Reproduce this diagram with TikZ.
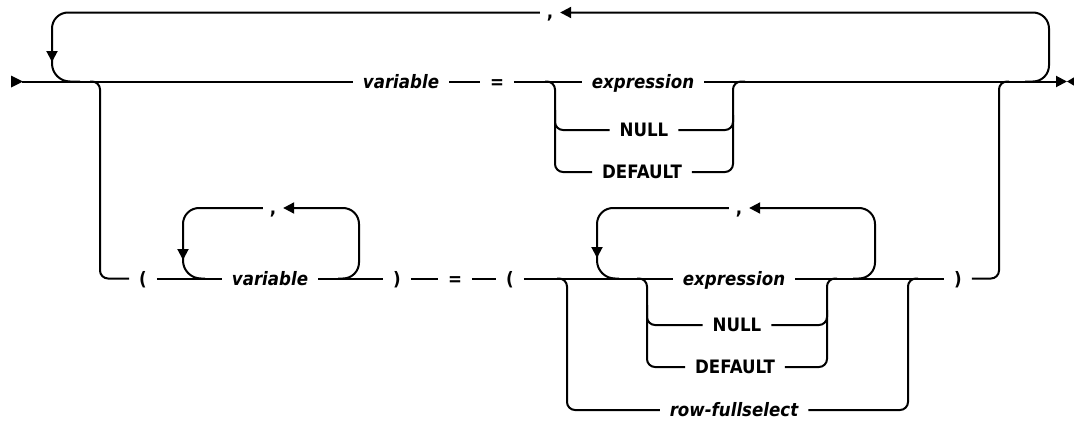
\documentclass[tikz,border=0pt]{standalone}
\usepackage{fontspec}
\setmainfont{DejaVu Sans}[FakeStretch=0.9]
\usetikzlibrary{arrows.meta}
\tikzset{
  lbl/.style={inner xsep=9pt, inner ysep=0pt, text height=13pt, text depth=0pt, anchor=center, font=\fontsize{18.5}{20}\selectfont\bfseries},
  ilbl/.style={lbl, font=\fontsize{18.5}{20}\selectfont\bfseries\itshape},
  commalbl/.style={lbl, inner xsep=6pt},
  rca/.style={rounded corners=8pt},
  rcb/.style={rounded corners=16pt},
  rcc/.style={rounded corners=18pt},
  >={Triangle[length=11pt,width=11pt]}
}
\begin{document}
\begin{tikzpicture}[x=1pt,y=-1pt,line width=2pt]
\useasboundingbox (0,0) rectangle (1074,423);
% ---- row 1 nodes (main line y=81.5)
\node[ilbl] (v1) at (401,81.5) {variable};
\node[lbl] (eq1) at (497,81.5) {=};
\node[ilbl] (ex1) at (643,81.5) {expression};
\node[lbl] (nu1) at (644,130) {NULL};
\node[lbl] (de1) at (642,172) {DEFAULT};
\node[commalbl] (cm1) at (550,12.5) {,};
% ---- row 2 nodes (line y=278.5)
\node[lbl] (lp1) at (143,278.5) {(};
\node[ilbl] (v2) at (270,278.5) {variable};
\node[lbl] (rp1) at (397,278.5) {)};
\node[lbl] (eq2) at (455,278.5) {=};
\node[lbl] (lp2) at (510,278.5) {(};
\node[commalbl] (cm2) at (273,208) {,};
\node[ilbl] (ex2) at (734,278.5) {expression};
\node[commalbl] (cm3) at (739,208) {,};
\node[lbl] (nu2) at (737,325) {NULL};
\node[lbl] (de2) at (735,367) {DEFAULT};
\node[ilbl] (rf) at (734,410) {row-fullselect};
\node[lbl] (rp2) at (958,278.5) {)};
% ---- start / end
\coordinate (start) at (22,81.5);
\coordinate (endc) at (1067,81.5);
\fill (11,75.5) -- (23,81.5) -- (11,87.5) -- cycle;
\fill (endc) -- (1077,75.5) -- (1077,87.5) -- cycle;
% ---- row 1 lines
\draw (start) -- (v1.west);
\draw (v1.east) -- (eq1.west);
\draw (eq1.east) -- (ex1.west);
\draw[->] (ex1.east) -- (endc);
% repeat loop
\draw[rcb,->] (1025,81.5) -| (1049,12.5) -- (cm1.east);
\draw[rcb,->] (cm1.west) -| (52,62);
\draw[rcc] (52,55) |- (80,81.5);
% choice expression / NULL / DEFAULT
\draw[rca] (545,81.5) -| (555,172) -- (de1.west);
\draw[rca] (555,110) |- (nu1.west);
\draw[rca] (de1.east) -| (733,81.5) -- (745,81.5);
\draw[rca] (nu1.east) -| (733,115);
% branch down to row 2
\draw[rca] (90,81.5) -| (100,278.5) -- (lp1.west);
% ---- row 2 lines
\draw (lp1.east) -- (v2.west);
\draw (v2.east) -- (rp1.west);
\draw (rp1.east) -- (eq2.west);
\draw (eq2.east) -- (lp2.west);
\draw (lp2.east) -- (ex2.west);
\draw (ex2.east) -- (rp2.west);
% loop around variable
\draw[rcb,->] (cm2.west) -| (183,260);
\draw[rcc] (183,252) |- (205,278.5);
\draw[rcb,->] (338,278.5) -| (359,208) -- (cm2.east);
% loop around expression
\draw[rcb,->] (cm3.west) -| (597,258);
\draw[rcc] (597,250) |- (619,278.5);
\draw[rcb,->] (853,278.5) -| (875,208) -- (cm3.east);
% outer choice with row-fullselect
\draw[rca] (557,278.5) -| (567,410) -- (rf.west);
\draw[rca] (rf.east) -| (908,278.5) -- (918,278.5);
% inner choice
\draw[rca] (637,278.5) -| (647,367) -- (de2.west);
\draw[rca] (647,305) |- (nu2.west);
\draw[rca] (de2.east) -| (827,278.5) -- (837,278.5);
\draw[rca] (nu2.east) -| (827,310);
% back to main line
\draw[rca] (rp2.east) -| (999,81.5) -- (1009,81.5);
\end{tikzpicture}
\end{document}
